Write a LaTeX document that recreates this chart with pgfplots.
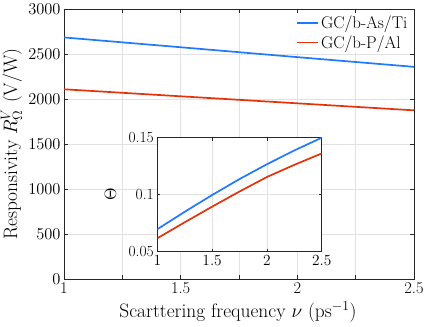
\RequirePackage{fix-cm}
\documentclass[border=0pt]{standalone}
\usepackage{pgfplots}
\pgfplotsset{compat=1.18}
\definecolor{cblue}{RGB}{31,120,255}
\definecolor{cred}{RGB}{230,50,10}
\definecolor{axgray}{RGB}{38,38,38}
\definecolor{gridgray}{RGB}{226,226,226}
\begin{document}
\begin{tikzpicture}[font=\fontsize{16.5}{19}\selectfont]
\useasboundingbox (-64bp,-48bp) rectangle (372bp,279bp);
\begin{axis}[
  scale only axis, width=350bp, height=270bp, at={(0,0)}, anchor=south west,
  xmin=1, xmax=2.5, ymin=0, ymax=3000,
  xtick={1,1.25,1.5,1.75,2,2.25,2.5}, xticklabels={1,,1.5,,2,,2.5},
  ytick={0,500,1000,1500,2000,2500,3000},
  /pgf/number format/1000 sep={},
  scaled y ticks=false,
  grid=major, grid style={gridgray, line width=0.5bp},
  axis line style={axgray, line width=0.6bp},
  tick style={axgray, line width=0.6bp},
  tick align=inside, major tick length=4bp,
  tick label style={font=\fontsize{16.5}{19}\selectfont},
  label style={font=\fontsize{19.5}{23}\selectfont},
  xlabel={Scarttering frequency $\nu$ (ps$^{-1}$)},
  ylabel={Responsivity $R^V_\Omega$ (V/W)},
  xlabel style={at={(axis description cs:0.497,-0.122)}, anchor=center},
  ylabel style={at={(axis description cs:-0.15,0.5)}, anchor=center},
  legend style={at={(0.99,0.985)}, anchor=north east, draw=none, fill=white,
    inner sep=1bp, row sep=1bp, font=\fontsize{17}{20}\selectfont},
  legend cell align=left,
  legend image code/.code={\draw[#1] (0bp,0bp) -- (21bp,0bp);},
]
\addplot[cblue, line width=1.7bp] coordinates {(1,2684) (1.5,2575) (2,2465) (2.5,2357)};
\addlegendentry{GC/b-As/Ti}
\addplot[cred, line width=1.7bp] coordinates {(1,2108) (1.5,2030) (2,1952) (2.5,1874)};
\addlegendentry{GC/b-P/Al}
\end{axis}
\begin{axis}[
  scale only axis, width=164.4bp, height=114bp, at={(93.3bp,27.3bp)}, anchor=south west,
  xmin=1, xmax=2.5, ymin=0.05, ymax=0.15,
  xtick={1,1.5,2,2.5}, ytick={0.05,0.1,0.15},
  yticklabels={0.05,0.1,0.15},
  grid=major, grid style={gridgray, line width=0.5bp},
  axis line style={axgray, line width=0.6bp},
  tick style={axgray, line width=0.6bp},
  tick align=inside, major tick length=3bp,
  tick label style={font=\fontsize{15.5}{18}\selectfont},
  label style={font=\fontsize{16.5}{19}\selectfont},
  ylabel style={at={(axis description cs:-0.285,0.5)}, anchor=center},
  axis background/.style={fill=white},
  ylabel={$\Theta$},
]
\addplot[cblue, line width=1.7bp] coordinates {(1,0.0697) (1.25,0.0850) (1.5,0.0997) (1.75,0.1137) (2,0.1267) (2.25,0.1388) (2.5,0.1500)};
\addplot[cred, line width=1.7bp] coordinates {(1,0.0618) (1.25,0.0758) (1.5,0.0895) (1.75,0.1028) (2,0.1155) (2.25,0.1262) (2.5,0.1362)};
\end{axis}
\end{tikzpicture}
\end{document}
